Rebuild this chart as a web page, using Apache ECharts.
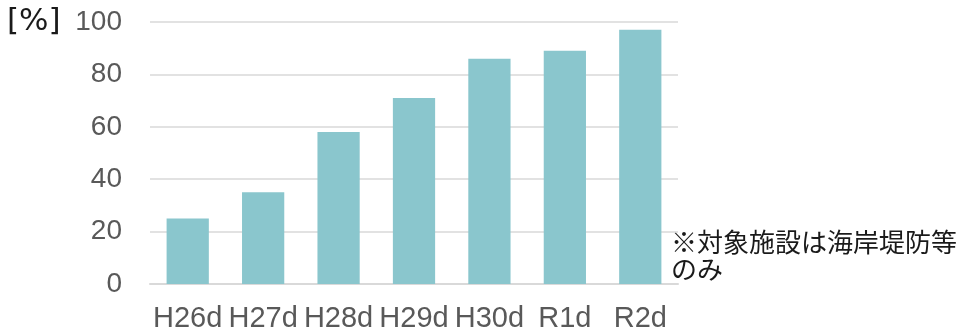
<!DOCTYPE html>
<html>
<head>
<meta charset="utf-8">
<script src="https://cdn.jsdelivr.net/npm/echarts@6/dist/echarts.min.js"></script>
<style>
  html, body { margin: 0; padding: 0; background: #fff; }
  #chart { width: 961px; height: 334px; }
</style>
</head>
<body>
<div id="chart"></div>
<script>
// Fiscal years (Heisei / Reiwa)
const categories = ['H26d', 'H27d', 'H28d', 'H29d', 'H30d', 'R1d', 'R2d'];
// Completion rate per year [%]
const rates = [25, 35, 58, 71, 86, 89, 97];
// Y-axis scale
const yMin = 0;
const yMax = 100;
const yStep = 20;

const unitLabel = '[%]';
const noteText = '※対象施設は海岸堤防等\nのみ';

const chart = echarts.init(document.getElementById('chart'), null, { renderer: 'canvas' });

const baseFont = '"Liberation Sans", Arial, "Noto Sans CJK JP", sans-serif';

chart.setOption({
  animation: false,
  backgroundColor: '#ffffff',
  grid: { left: 150, right: 283, top: 22, bottom: 50, containLabel: false },
  xAxis: {
    type: 'category',
    data: categories,
    axisTick: { show: false },
    axisLine: { show: true, lineStyle: { color: '#d9d9d9', width: 2 } },
    axisLabel: {
      color: '#595959',
      fontSize: 29,
      fontFamily: baseFont,
      margin: 20,
      interval: 0
    }
  },
  yAxis: {
    type: 'value',
    min: yMin,
    max: yMax,
    interval: yStep,
    axisLine: { show: false },
    axisTick: { show: false },
    splitLine: { lineStyle: { color: '#d9d9d9', width: 1.5 } },
    axisLabel: {
      color: '#595959',
      fontSize: 28,
      fontFamily: baseFont,
      margin: 28
    }
  },
  series: [{
    type: 'bar',
    data: rates,
    barCategoryGap: '44%',
    itemStyle: { color: '#8ac6cd' }
  }],
  graphic: [
    {
      type: 'text',
      left: 7,
      top: 6,
      style: {
        text: unitLabel,
        fontSize: 31,
        fontFamily: '"DejaVu Sans", sans-serif',
        fill: '#1a1a1a'
      }
    },
    {
      type: 'text',
      left: 671,
      top: 229,
      style: {
        text: noteText,
        fontSize: 26,
        lineHeight: 27,
        fontFamily: '"Noto Sans CJK JP", sans-serif',
        fill: '#1a1a1a'
      }
    }
  ]
});
</script>
</body>
</html>
